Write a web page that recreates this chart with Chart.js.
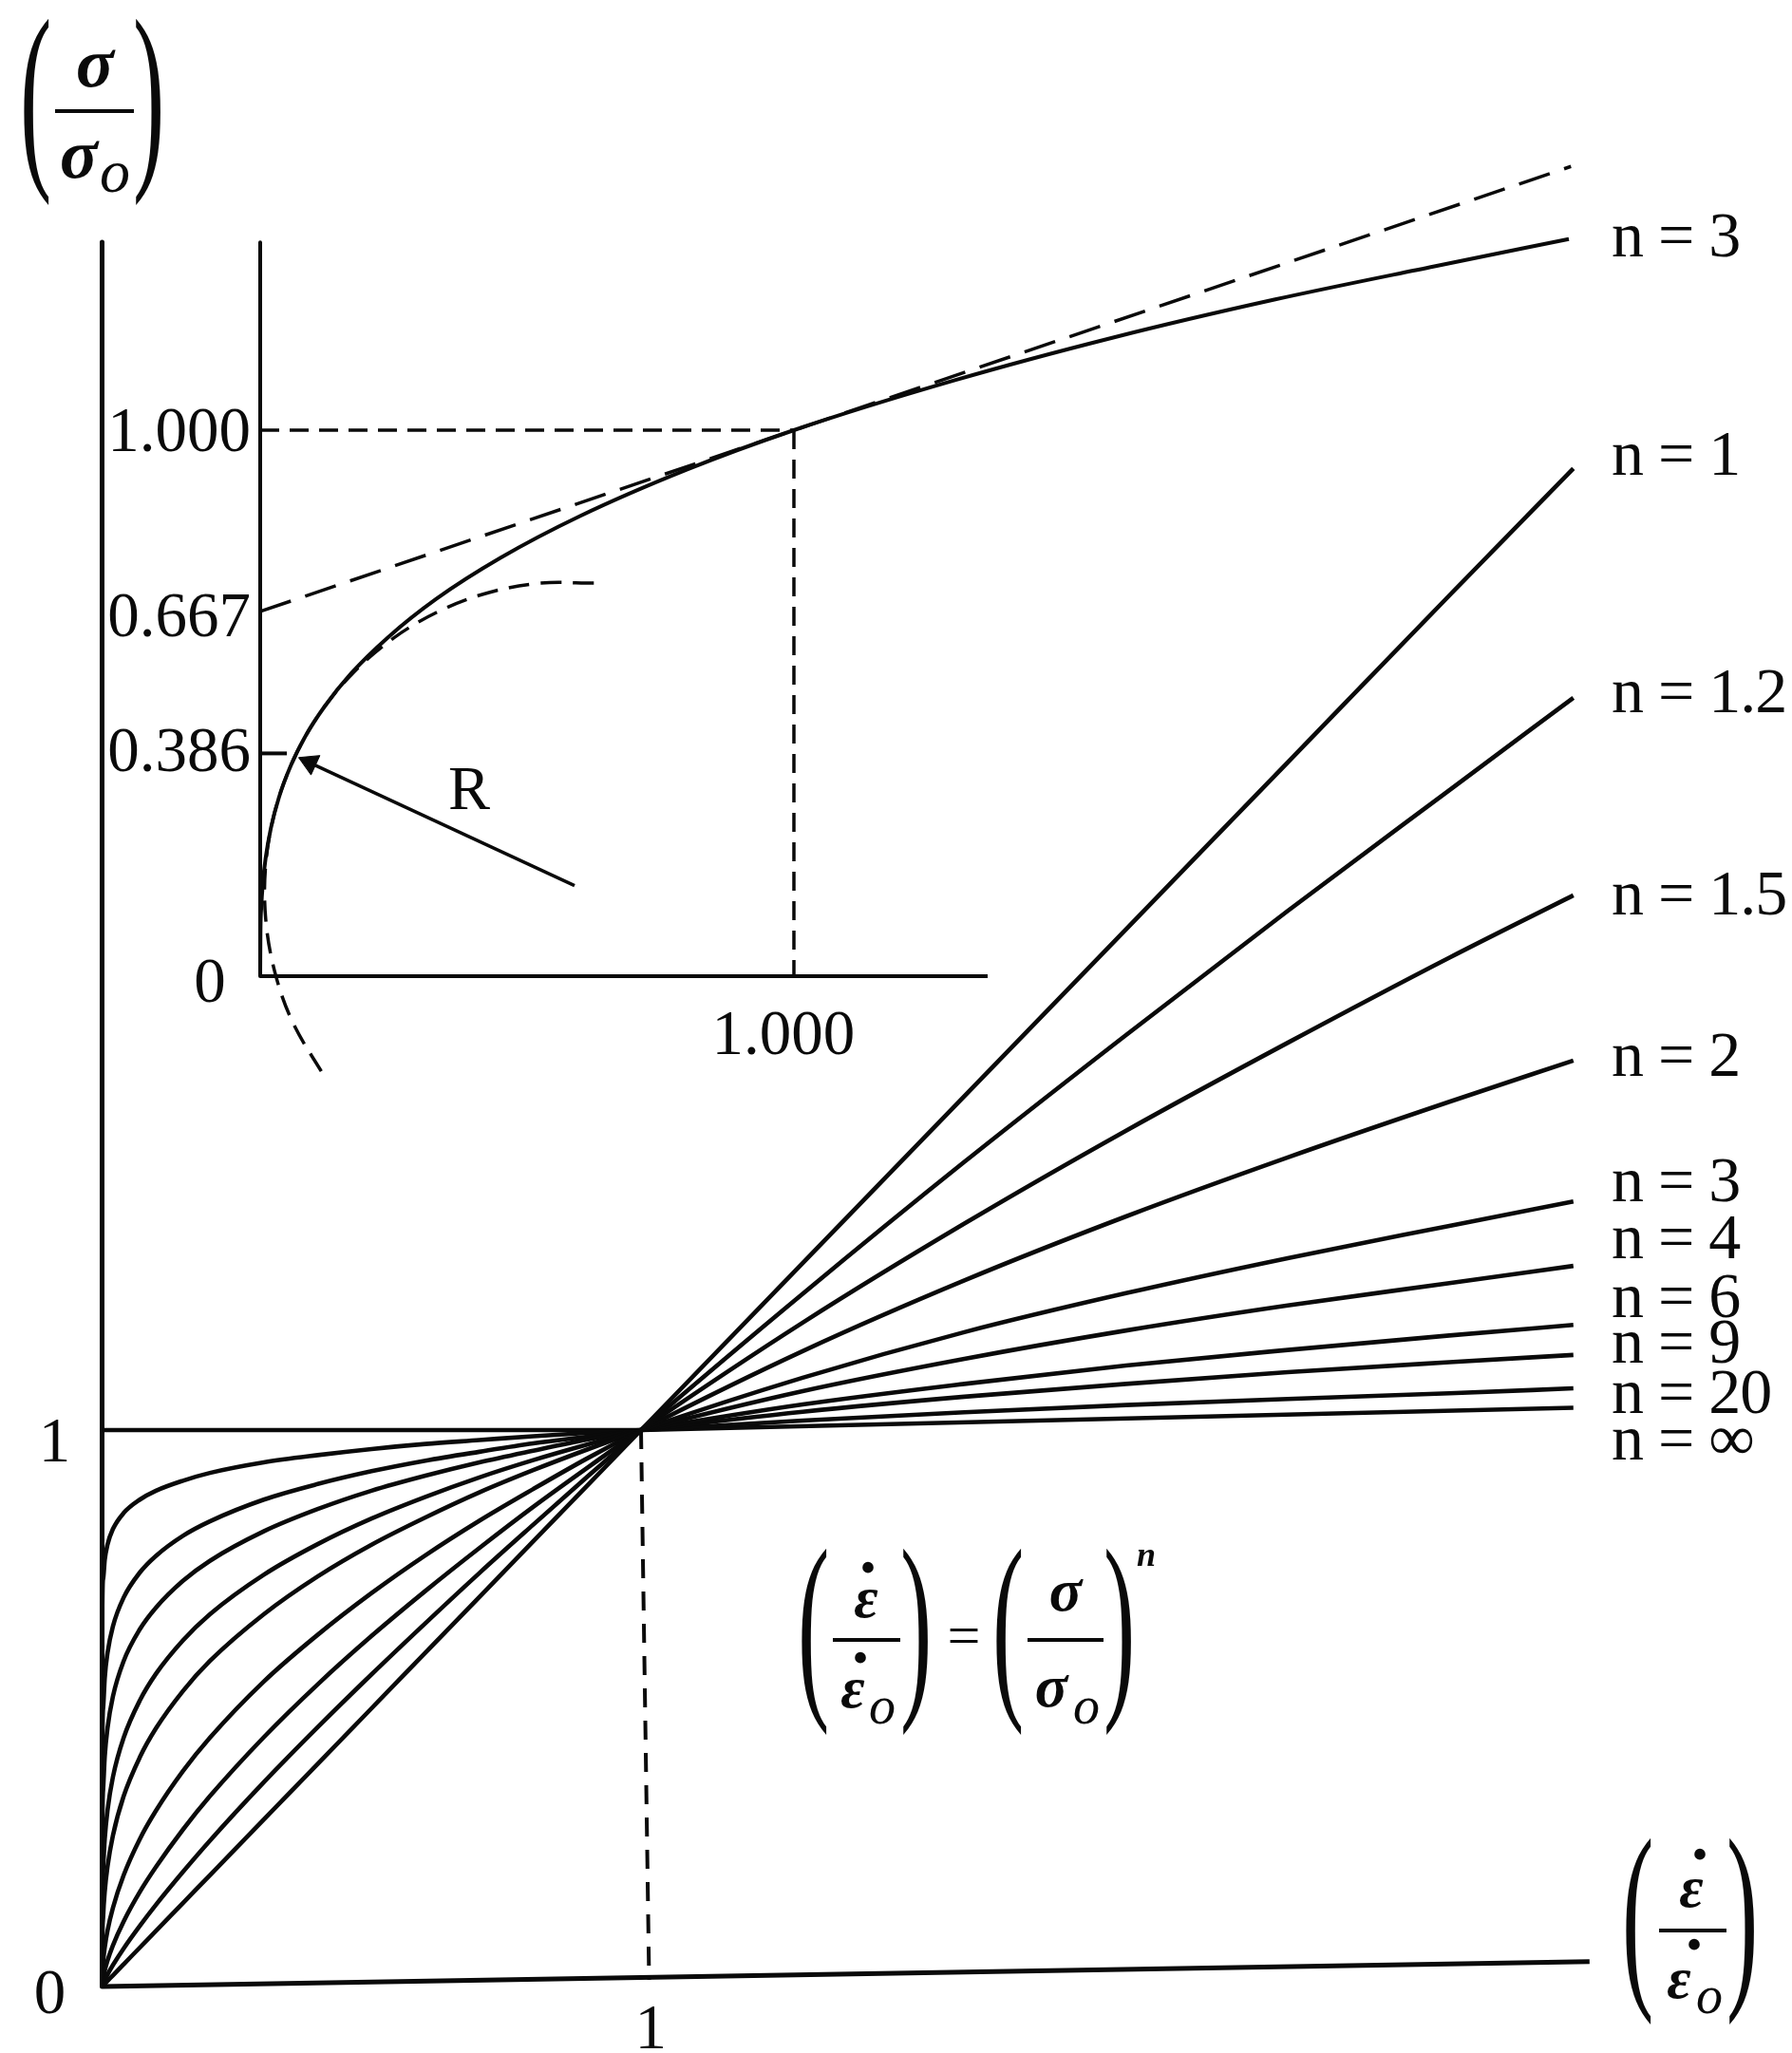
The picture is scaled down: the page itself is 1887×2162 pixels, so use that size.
<!DOCTYPE html>
<html><head><meta charset="utf-8">
<script src="https://cdn.jsdelivr.net/npm/chart.js@4/dist/chart.umd.min.js"></script>
<style>
html,body{margin:0;padding:0;background:#fff;}
#wrap{position:relative;width:1887px;height:2162px;overflow:hidden;background:#fff;}
#c{position:absolute;left:0;top:0;}
.t{position:absolute;white-space:nowrap;line-height:1;font-family:"Liberation Serif","Times New Roman",serif;color:#0a0a0a;}
.bar{position:absolute;height:4px;background:#0a0a0a;}
</style></head><body>
<div id="wrap"><canvas id="c" width="1887" height="2162"></canvas></div>
<script>
// ---------- data ----------
// main chart: strain-rate ratio (x) vs stress ratio (y)
const xs = [0, 0.0005, 0.002, 0.005, 0.01, 0.02, 0.04, 0.07, 0.1, 0.15, 0.2, 0.3, 0.4, 0.5, 0.6, 0.7, 0.8, 0.9, 1, 1.3, 1.6, 1.9, 2.2, 2.5, 2.73];
const yN1   = [0, 0.0005, 0.002, 0.005, 0.01, 0.02, 0.04, 0.07, 0.1, 0.15, 0.2, 0.3, 0.4, 0.5, 0.6, 0.7, 0.8, 0.9, 1, 1.3, 1.6, 1.9, 2.2, 2.5, 2.728];
const yN1_2 = [0, 0.0018, 0.0056, 0.0121, 0.0215, 0.0384, 0.0684, 0.109, 0.147, 0.206, 0.262, 0.367, 0.466, 0.561, 0.653, 0.743, 0.830, 0.916, 1, 1.245, 1.482, 1.710, 1.933, 2.150, 2.316];
const yN1_5 = [0, 0.0063, 0.0159, 0.0292, 0.0464, 0.0737, 0.117, 0.170, 0.215, 0.282, 0.342, 0.448, 0.543, 0.630, 0.711, 0.788, 0.862, 0.932, 1, 1.193, 1.371, 1.538, 1.696, 1.849, 1.961];
const yN2   = [0, 0.0224, 0.0447, 0.0707, 0.100, 0.141, 0.200, 0.265, 0.316, 0.387, 0.447, 0.548, 0.632, 0.707, 0.775, 0.837, 0.894, 0.949, 1, 1.142, 1.269, 1.384, 1.490, 1.590, 1.664];
const yN3   = [0, 0.0794, 0.126, 0.171, 0.215, 0.271, 0.342, 0.412, 0.464, 0.531, 0.585, 0.669, 0.737, 0.794, 0.843, 0.888, 0.928, 0.965, 1, 1.094, 1.176, 1.246, 1.309, 1.367, 1.411];
const yN4   = [0, 0.150, 0.211, 0.266, 0.316, 0.376, 0.447, 0.514, 0.562, 0.622, 0.669, 0.740, 0.795, 0.841, 0.880, 0.915, 0.946, 0.974, 1, 1.070, 1.128, 1.179, 1.224, 1.264, 1.295];
const yN6   = [0, 0.282, 0.355, 0.414, 0.464, 0.521, 0.585, 0.642, 0.681, 0.729, 0.765, 0.818, 0.858, 0.891, 0.918, 0.942, 0.963, 0.983, 1, 1.046, 1.083, 1.116, 1.144, 1.170, 1.189];
const yN9   = [0, 0.430, 0.501, 0.555, 0.599, 0.647, 0.699, 0.744, 0.774, 0.810, 0.836, 0.875, 0.903, 0.926, 0.945, 0.961, 0.976, 0.988, 1, 1.033, 1.060, 1.083, 1.104, 1.122, 1.135];
const yN20  = [0, 0.684, 0.733, 0.767, 0.794, 0.822, 0.851, 0.875, 0.891, 0.909, 0.923, 0.942, 0.955, 0.966, 0.975, 0.982, 0.989, 0.995, 1, 1.017, 1.032, 1.045, 1.056, 1.066, 1.075];
const xInf  = [0, 0, 1, 2.73];
const yInf  = [0, 1, 1, 1.04];
const mainAxisX = [0, 0, 2.76];
const mainAxisY = [3.135, 0, 0.045];
const unitGuideX = [1, 1.015];
const unitGuideY = [1, 0.012];
const curveLabels = ['n = 3', 'n = 1', 'n = 1.2', 'n = 1.5', 'n = 2', 'n = 3', 'n = 4', 'n = 6', 'n = 9', 'n = 20', 'n = ∞'];
const mainTickX = ['1'];
const mainTickY = ['0', '1'];

// inset chart: n = 3 curve, its tangent at (1,1), osculating circle
const insetX = [0, 0.0005, 0.002, 0.005, 0.01, 0.02, 0.035, 0.0575, 0.085, 0.12, 0.17, 0.24, 0.33, 0.45, 0.6, 0.8, 1.0, 1.3, 1.6, 1.9, 2.2, 2.452];
const insetY = [0, 0.0794, 0.126, 0.171, 0.215, 0.271, 0.327, 0.386, 0.440, 0.493, 0.554, 0.621, 0.691, 0.766, 0.843, 0.928, 1.0, 1.091, 1.170, 1.239, 1.300, 1.350];
const tangentX = [0, 2.456];
const tangentY = [0.668, 1.483];
const circleX = [0.6251, 0.5261, 0.4287, 0.3358, 0.2501, 0.1743, 0.1107, 0.0613, 0.0274, 0.0103, 0.0103, 0.0274, 0.0613, 0.1224];
const circleY = [0.7198, 0.7198, 0.7027, 0.6688, 0.6194, 0.5558, 0.4800, 0.3943, 0.3014, 0.2040, 0.1050, 0.0076, -0.0853, -0.1870];
const guideHX = [0, 1], guideHY = [1, 1];
const guideVX = [1, 1], guideVY = [1, 0];
const guideRX = [0, 0.05], guideRY = [0.408, 0.408];
const radiusX = [0.589, 0.077], radiusY = [0.166, 0.398];
const insetAxisX = [0, 0, 1.363];
const insetAxisY = [1.344, 0, 0];
const insetTickY = ['1.000', '0.667', '0.386'];
const insetTickX = ['0', '1.000'];

// ---------- chart ----------
const INK = '#0a0a0a';
const pts = (a, b) => a.map((x, i) => ({x: x, y: b[i]}));
const mainSeries = [yN1, yN1_2, yN1_5, yN2, yN3, yN4, yN6, yN9, yN20];
const datasets = [];
function line(data, ax, w, extra) {
  datasets.push(Object.assign({
    data: data, xAxisID: ax ? 'x2' : 'x', yAxisID: ax ? 'y2' : 'y',
    borderColor: INK, backgroundColor: INK, borderWidth: w, pointRadius: 0, pointHoverRadius: 0,
    fill: false, tension: 0, borderCapStyle: 'butt', borderJoinStyle: 'round', clip: false
  }, extra || {}));
}
mainSeries.forEach(ys => line(pts(xs, ys), false, 4.6, {cubicInterpolationMode: 'monotone'}));
line(pts(xInf, yInf), false, 4.6);
line(pts(mainAxisX, mainAxisY), false, 5);
line(pts(unitGuideX, unitGuideY), false, 4, {borderDash: [20, 14]});
// inset
line(pts(insetAxisX, insetAxisY), true, 4);
line(pts(insetX, insetY), true, 4, {cubicInterpolationMode: 'monotone'});
line(pts(tangentX, tangentY), true, 3.5, {borderDash: [34, 16]});
line(pts(circleX, circleY), true, 3.5, {borderDash: [22, 12], tension: 0.35});
line(pts(guideHX, guideHY), true, 3.5, {borderDash: [20, 11]});
line(pts(guideVX, guideVY), true, 3.5, {borderDash: [20, 11]});
line(pts(guideRX, guideRY), true, 4);
line(pts(radiusX, radiusY), true, 3.5);
line([{x: radiusX[1] + 0.016, y: radiusY[1] - 0.007}], true, 0, {
  showLine: false, pointRadius: 13, pointStyle: 'triangle', pointRotation: -65.4,
  pointBackgroundColor: INK, pointBorderColor: INK, pointBorderWidth: 1
});

const chart = new Chart(document.getElementById('c'), {
  type: 'line',
  data: {datasets: datasets},
  options: {
    responsive: false, animation: false, devicePixelRatio: 1, events: [],
    layout: {padding: 0, autoPadding: false},
    plugins: {legend: {display: false}, tooltip: {enabled: false}},
    scales: {
      x:  {type: 'linear', display: false, bounds: 'data', min: -0.18943, max: 3.13568},
      y:  {type: 'linear', display: false, bounds: 'data', min: -0.11945, max: 3.56997},
      x2: {type: 'linear', display: false, bounds: 'data', min: -0.48754, max: 2.87011},
      y2: {type: 'linear', display: false, bounds: 'data', min: -1.97217, max: 1.78783}
    }
  }
});

// ---------- text ----------
const wrap = document.getElementById('wrap');
function put(txt, x, base, size, o) {
  o = o || {};
  const d = document.createElement('div');
  d.className = 't';
  d.textContent = txt;
  d.style.fontSize = size + 'px';
  d.style.top = (base - 0.8375 * size) + 'px';
  if (o.align === 'center') { d.style.left = x + 'px'; d.style.transform = 'translateX(-50%)'; }
  else if (o.align === 'right') { d.style.right = (1887 - x) + 'px'; }
  else d.style.left = x + 'px';
  if (o.bold) d.style.fontWeight = 'bold';
  if (o.italic) d.style.fontStyle = 'italic';
  if (o.ls) d.style.letterSpacing = o.ls + 'px';
  wrap.appendChild(d);
  return d;
}
function paren(ch, left, cy, h) {
  const F = 100;
  const d = document.createElement('div');
  d.className = 't';
  d.textContent = ch;
  d.style.fontSize = F + 'px';
  d.style.left = left + 'px';
  d.style.top = (cy - 0.579 * F) + 'px';
  d.style.transformOrigin = '50% 57.9%';
  d.style.transform = 'scaleY(' + (h / 87).toFixed(3) + ')';
  wrap.appendChild(d);
}
function bar(x1, x2, y) {
  const d = document.createElement('div');
  d.className = 'bar';
  d.style.left = x1 + 'px'; d.style.width = (x2 - x1) + 'px'; d.style.top = (y - 2) + 'px';
  wrap.appendChild(d);
}
const sx = chart.scales.x, sy = chart.scales.y, sx2 = chart.scales.x2, sy2 = chart.scales.y2;
const TICK = 67;
// main ticks
put(mainTickY[0], sx.getPixelForValue(0) - 55, sy.getPixelForValue(0) + 28, TICK, {align: 'center'});
put(mainTickY[1], sx.getPixelForValue(0) - 50, sy.getPixelForValue(1) + 33, TICK, {align: 'center'});
put(mainTickX[0], sx.getPixelForValue(1.018), sy.getPixelForValue(0) + 65, TICK, {align: 'center'});
// inset ticks
put(insetTickY[0], sx2.getPixelForValue(0) - 10, sy2.getPixelForValue(1) + 22, TICK, {align: 'right'});
put(insetTickY[1], sx2.getPixelForValue(0) - 10, sy2.getPixelForValue(0.667) + 26, TICK, {align: 'right'});
put(insetTickY[2], sx2.getPixelForValue(0) - 10, sy2.getPixelForValue(0.408) + 19, TICK, {align: 'right'});
put(insetTickX[0], sx2.getPixelForValue(0) - 53, sy2.getPixelForValue(0) + 27, TICK, {align: 'center'});
put(insetTickX[1], sx2.getPixelForValue(0.98), sy2.getPixelForValue(0) + 82, TICK, {align: 'center'});
put('R', 472, 852, 66);
// curve labels
const labelBase = [270, 500, 750, 963, 1133, 1265, 1325, 1387, 1435, 1488, 1537];
curveLabels.forEach((t, i) => put(t, 1697, labelBase[i], 68, {ls: -1}));

// y-axis title  (σ / σo)
paren('(', 21, 116, 188);
paren(')', 140, 116, 188);
put('σ', 100, 91, 74, {bold: true, italic: true, align: 'center'});
bar(58, 141, 117);
put('σ', 83, 187, 74, {bold: true, italic: true, align: 'center'});
put('o', 105, 203, 64, {italic: true});

// formula  (ε̇/ε̇o) = (σ/σo)^n
paren('(', 840, 1727, 189);
put('.', 914, 1656, 72, {bold: true, align: 'center'});
put('ε', 912, 1703, 62, {bold: true, italic: true, align: 'center'});
bar(877, 948, 1727);
put('.', 906, 1751, 72, {bold: true, align: 'center'});
put('ε', 898, 1798, 62, {bold: true, italic: true, align: 'center'});
put('o', 915, 1815, 56, {italic: true});
paren(')', 948, 1727, 189);
put('=', 1015, 1743, 62, {align: 'center'});
paren('(', 1045, 1727, 189);
put('σ', 1122, 1697, 64, {bold: true, italic: true, align: 'center'});
bar(1082, 1162, 1727);
put('σ', 1107, 1798, 64, {bold: true, italic: true, align: 'center'});
put('o', 1130, 1815, 56, {italic: true});
paren(')', 1162, 1727, 189);
put('n', 1197, 1649, 36, {bold: true, italic: true});

// x-axis title  (ε̇/ε̇o)
paren('(', 1708, 2032, 189);
put('.', 1790, 1958, 72, {bold: true, align: 'center'});
put('ε', 1781, 2008, 62, {bold: true, italic: true, align: 'center'});
bar(1747, 1818, 2033);
put('.', 1784, 2053, 72, {bold: true, align: 'center'});
put('ε', 1768, 2104, 62, {bold: true, italic: true, align: 'center'});
put('o', 1786, 2120, 56, {italic: true});
paren(')', 1818, 2032, 189);
</script>
</body></html>
